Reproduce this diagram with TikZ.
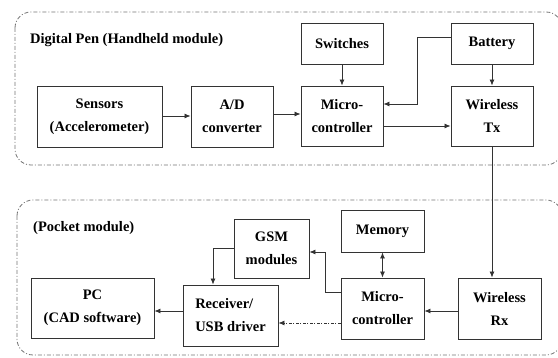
\documentclass[tikz,border=0pt]{standalone}
\usepackage{fontspec}
\newfontfamily\blkfont{Liberation Serif}
\usetikzlibrary{arrows.meta}
\definecolor{box-gray}{gray}{0.2}
\definecolor{frame-gray}{gray}{0.45}

\begin{document}
\begin{tikzpicture}[x=1pt,y=-1pt,
		blk/.style={draw=box-gray, line width=0.9pt, align=center, inner sep=0pt,
			font=\blkfont\bfseries\fontsize{14.5}{23}\selectfont},
		lbl/.style={anchor=west, inner sep=0pt, font=\blkfont\bfseries\fontsize{14.5}{17}\selectfont},
		frame/.style={draw=frame-gray, line width=0.8pt, rounded corners=16pt,
			dash pattern=on 4pt off 2pt on 1pt off 2pt},
		link/.style={draw=box-gray, line width=0.8pt, -{Latex[length=6pt,width=5pt]}}]
			\useasboundingbox (0,0) rectangle (558,358);

			% the two modules
			\draw[frame] (15,12) rectangle (562,165);
			\draw[frame] (17,200) rectangle (562,355);
			\node[lbl] (pentitle) at (30,40) {Digital Pen (Handheld module)};
			\node[lbl] (pockettitle) at (33,228) {(Pocket module)};

			% handheld blocks
			\node[blk, minimum width=125pt, minimum height=61pt] (sens) at (99.5,116.5) {Sensors\\(Accelerometer)};
			\node[blk, minimum width=82pt, minimum height=61pt] (adc) at (232,116.5) {A/D\\converter};
			\node[blk, minimum width=82pt, minimum height=60pt] (mcua) at (342,116) {Micro-\\controller};
			\node[blk, minimum width=82pt, minimum height=41pt] (sw) at (342,43.5) {Switches};
			\node[blk, minimum width=82pt, minimum height=41pt] (bat) at (492,43.5) {Battery};
			\node[blk, minimum width=82pt, minimum height=60pt] (tx) at (492,116) {Wireless\\Tx};

			% pocket blocks
			\node[blk, minimum width=83pt, minimum height=42pt] (mem) at (382.5,231) {Memory};
			\node[blk, minimum width=83pt, minimum height=61pt] (mcub) at (382.5,308.5) {Micro-\\controller};
			\node[blk, minimum width=83pt, minimum height=61pt] (rx) at (499.5,308.5) {Wireless\\Rx};
			\node[blk, minimum width=75pt, minimum height=59pt] (gsm) at (271.5,248.5) {GSM\\modules};
			\node[blk, minimum width=95pt, minimum height=61pt] (rcv) at (230.5,315.5) {\begin{tabular}{@{}l@{}}Receiver/\\USB driver\end{tabular}};
			\node[blk, minimum width=123pt, minimum height=60pt] (pc) at (92.5,308) {PC\\(CAD software)};

			% handheld links
			\draw[link] (sens.east |- 0,116) -- (adc.west |- 0,116);
			\draw[link] (adc.east |- 0,114) -- (mcua.west |- 0,114);
			\draw[link] (sw) -- (mcua);
			\draw[link] (bat) -- (tx);
			\draw[link] (bat.west |- 0,37) -| (417,104) -- (mcua.east |- 0,104);
			\draw[link] (mcua.east |- 0,126) -- (tx.west |- 0,126);

			% radio link
			\draw[link] (tx.south) -- (tx.south |- rx.north);

			% pocket links
			\draw[link] (rx.west |- 0,311) -- (mcub.east |- 0,311);
			\draw[draw=box-gray, line width=0.8pt, {Latex[length=6pt,width=5pt]}-{Latex[length=6pt,width=5pt]}] (mem) -- (mcub);
			\draw[link] (mcub.west |- 0,292) -| (325,252) -- (gsm.east |- 0,252);
			\draw[link] (gsm.west |- 0,248) -| (rcv.north -| 213,0);
			\draw[link, dash pattern=on 3pt off 1.5pt on 1pt off 1.5pt] (mcub.west |- 0,323) -- (rcv.east |- 0,323);
			\draw[link] (rcv.west |- 0,311) -- (pc.east |- 0,311);
		\end{tikzpicture}
\end{document}
